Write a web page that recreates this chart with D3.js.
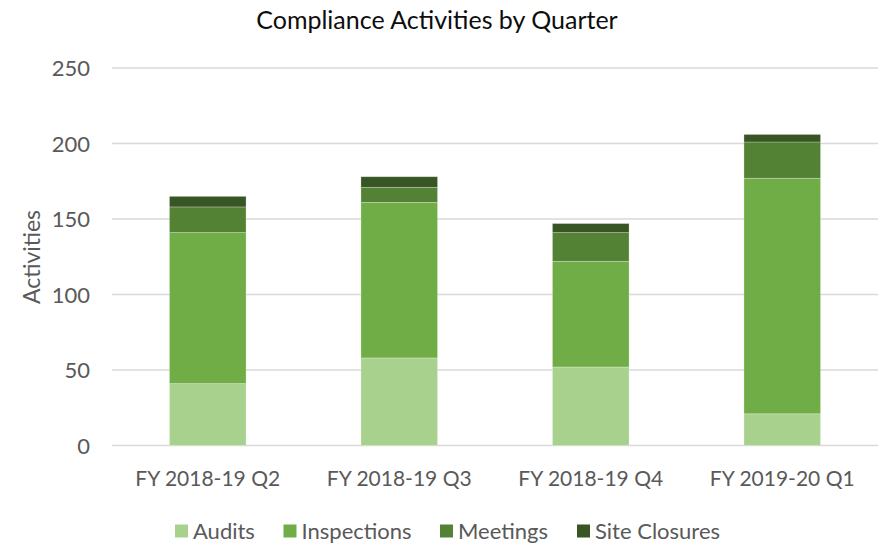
<!DOCTYPE html>
<html><head><meta charset="utf-8">
<script src="https://cdn.jsdelivr.net/npm/d3@7"></script>
<style>body{margin:0;background:#fff}svg{display:block}text{font-family:Lato,"Open Sans",sans-serif}</style>
</head><body><svg id="c" width="880" height="545"></svg>
<script>
const categories = ["FY 2018-19 Q2","FY 2018-19 Q3","FY 2018-19 Q4","FY 2019-20 Q1"];
const seriesNames = ["Audits","Inspections","Meetings","Site Closures"];
const audits = [41,58,52,21];
const inspections = [100,103,70,156];
const meetings = [17,10,19,24];
const siteClosures = [7,7,6,5];
const yTicks = [0,50,100,150,200,250];
const colors = ["#A9D18E","#70AD47","#548235","#375623"];

const rows = categories.map((c,i)=>({cat:c,"Audits":audits[i],"Inspections":inspections[i],"Meetings":meetings[i],"Site Closures":siteClosures[i]}));
const svg = d3.select("#c");
const x = d3.scaleBand().domain(categories).range([112,878]).paddingInner(0.6).paddingOuter(0.3);
const y = d3.scaleLinear().domain([0,250]).range([445.5,68]);

const grid = svg.append("g");
grid.selectAll("line").data(yTicks).join("line")
  .attr("x1",112).attr("x2",878).attr("y1",d=>y(d)).attr("y2",d=>y(d))
  .attr("stroke","#d9d9d9").attr("stroke-width",1.3);

const stack = d3.stack().keys(seriesNames)(rows);
svg.append("g").selectAll("g").data(stack).join("g").attr("fill",(d,i)=>colors[i])
  .selectAll("rect").data(d=>d).join("rect")
  .attr("x",d=>x(d.data.cat)).attr("width",x.bandwidth())
  .attr("y",d=>y(d[1])).attr("height",d=>y(d[0])-y(d[1]))
  .attr("stroke","#ffffff").attr("stroke-opacity",0.35).attr("stroke-width",0.75);

const yAxis = d3.axisLeft(y).tickValues(yTicks).tickSize(0).tickPadding(0);
const ya = svg.append("g").attr("transform","translate(90,0)").call(yAxis);
ya.select(".domain").remove();
ya.selectAll("text").attr("fill","#595959").attr("font-size",22).attr("dy","0.36em");

const xAxis = d3.axisBottom(x).tickSize(0).tickPadding(0);
const xa = svg.append("g").attr("transform","translate(0,478)").call(xAxis);
xa.select(".domain").remove();
xa.selectAll("text").attr("fill","#595959").attr("font-size",21).attr("dy","0.36em");

svg.append("text").attr("x",437).attr("y",20).attr("text-anchor","middle").attr("dy","0.36em")
  .attr("font-size",25).attr("fill","#0d0d0d").text("Compliance Activities by Quarter");

svg.append("text").attr("transform","translate(32,257) rotate(-90)").attr("text-anchor","middle").attr("dy","0.36em")
  .attr("font-size",23).attr("fill","#595959").text("Activities");

const legX = [175,283.5,440,577];
const leg = svg.append("g").selectAll("g").data(seriesNames).join("g")
  .attr("transform",(d,i)=>`translate(${legX[i]},531)`);
leg.append("rect").attr("x",0).attr("y",-6.5).attr("width",13).attr("height",13).attr("fill",(d,i)=>colors[i]);
leg.append("text").attr("x",18).attr("dy","0.36em").attr("font-size",22).attr("fill","#595959").text(d=>d);
</script></body></html>
